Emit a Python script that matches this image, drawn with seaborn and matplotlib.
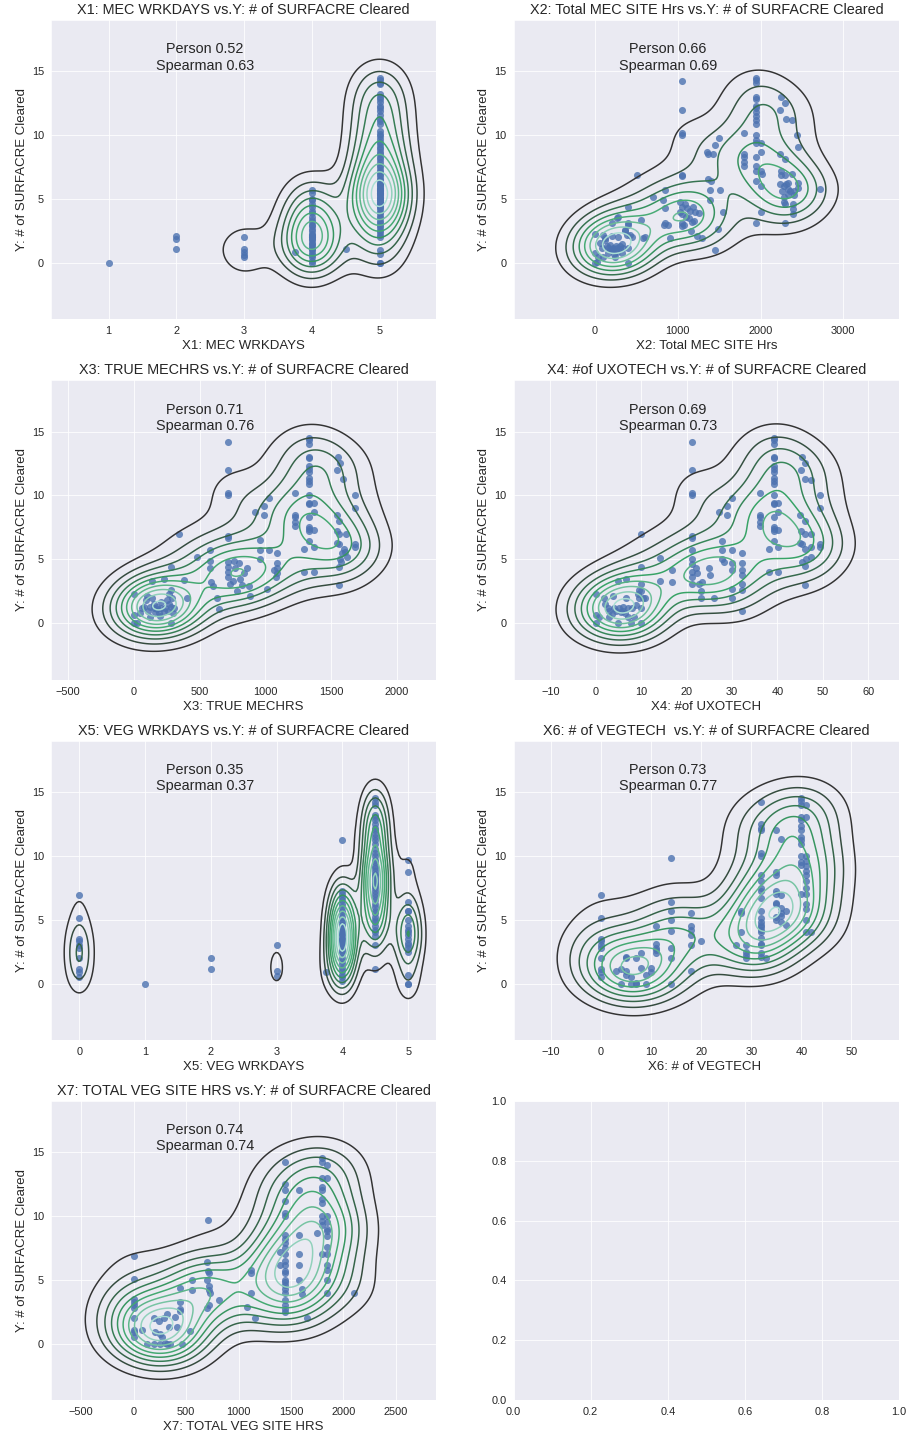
import numpy as np
import pandas as pd
import seaborn as sns
import matplotlib.pyplot as plt
from matplotlib.ticker import MaxNLocator

# ---- values ----
y_name = 'Y: # of SURFACRE Cleared'

names = ['X1: MEC WRKDAYS', 'X2: Total MEC SITE Hrs', 'X3: TRUE MECHRS',
         'X4: #of UXOTECH', 'X5: VEG WRKDAYS', 'X6: # of VEGTECH ',
         'X7: TOTAL VEG SITE HRS']
pearson = [0.52, 0.66, 0.71, 0.69, 0.35, 0.73, 0.74]
spearman = [0.63, 0.69, 0.76, 0.73, 0.37, 0.77, 0.74]

# X1 is discrete: y values for each x column
x1_cols = [1, 2, 3, 3.75, 4, 4.5, 5]
y1_cols = [
    [0.0],
    [2.1, 1.9, 1.1],
    [2.0, 1.1, 0.9, 0.6, 0.5],
    [0.9],
    [5.7, 5.5, 5.0, 4.9, 4.6, 4.4, 4.1, 3.9, 3.6, 3.4, 3.2, 3.0, 2.9, 2.7,
     2.5, 2.3, 2.2, 2.1, 2.0, 2.0, 1.9, 1.8, 1.6, 1.5, 1.3, 1.2, 1.1, 1.0,
     0.8, 0.6, 0.5, 0.2, 0.0],
    [1.1],
    [14.5, 14.3, 14.1, 14.0, 13.2, 13.0, 12.8, 12.6, 12.3, 12.1, 11.9, 11.6,
     11.3, 11.1, 10.9, 10.3, 10.1, 9.9, 9.7, 9.5, 9.3, 9.1, 8.9, 8.7, 8.5,
     8.3, 8.1, 7.9, 7.7, 7.5, 7.3, 7.1, 7.0, 6.8, 6.6, 6.5, 6.3, 6.2, 6.1,
     6.0, 5.9, 5.8, 5.7, 5.7, 5.6, 5.5, 5.5, 5.4, 5.3, 5.2, 5.1, 5.0, 5.0,
     4.9, 4.8, 4.7, 4.6, 4.5, 4.4, 4.2, 4.0, 3.9, 3.7, 3.5, 3.3, 3.1, 3.0,
     2.8, 2.6, 2.4, 2.2, 2.0, 1.0, 0.7, 0.0, 0.0],
]

pts2 = [
    (0, 2.3), (0, 0.8), (0, 0.0), (20, 0.1), (40, 0.5), (60, 1.6), (80, 1.2),
    (100, 0.5), (120, 1.8), (121, 1.95), (140, 1.3), (160, 1.2), (180, 1.0),
    (181, 1.4), (200, 2.1), (200, 1.0), (200, 3.1), (210, 1.1), (220, 1.2),
    (240, 0.5), (250, 1.3), (260, 1.2), (262, 3.5), (280, 2.0), (280, 3.6),
    (300, 1.3), (300, 1.1), (320, 0.8), (340, 1.2), (360, 2.6), (362, 2.5),
    (380, 2.2), (400, 3.1), (403, 4.4), (403, 3.0), (400, 1.2), (400, 0.0),
    (423, 2.2), (440, 2.0), (504, 6.9), (560, 3.4), (580, 1.95), (600, 2.0),
    (150, 0.8), (230, 0.7), (270, 0.9), (330, 1.5), (100, 2.2),
    (701, 5.2), (822, 4.9), (846, 5.7), (846, 4.3), (846, 3.1), (882, 3.0),
    (906, 1.95), (830, 3.0), (1047, 14.2), (1047, 12.0), (1047, 10.2),
    (1047, 10.0), (1047, 6.9), (1047, 6.8), (1027, 4.8), (1027, 4.0),
    (1047, 4.4), (1047, 3.8), (1047, 3.1), (1047, 2.9), (1090, 4.6),
    (1110, 4.3), (1150, 4.1), (1180, 4.4), (1210, 4.0), (1100, 3.6),
    (1140, 3.5), (1170, 3.2), (1200, 3.3), (1080, 3.0), (1160, 2.5),
    (1230, 2.1), (1289, 1.95), (1250, 3.9), (1349, 8.7), (1369, 8.5),
    (1430, 8.5), (1450, 9.2), (1498, 9.8), (1369, 6.6), (1401, 6.4),
    (1389, 5.7), (1510, 5.7), (1389, 4.9), (1547, 4.0), (1490, 2.7),
    (1450, 1.0),
    (1945, 14.5), (1945, 14.3), (1945, 14.1), (1945, 13.0), (1945, 12.8),
    (1945, 12.3), (1945, 12.1), (1945, 11.8), (1945, 11.5), (1945, 11.2),
    (1945, 10.9), (1945, 10.0), (1945, 9.6), (1945, 9.4), (1945, 8.3),
    (1945, 7.6), (1945, 7.2), (1945, 6.4), (1945, 3.1), (1800, 10.2),
    (1800, 8.5), (1800, 8.3), (1800, 7.9), (1800, 7.6), (2000, 9.4),
    (2000, 8.7), (2000, 7.2), (2000, 6.0), (2000, 4.0), (2015, 7.0),
    (2250, 13.0), (2300, 12.5), (2230, 12.0), (2310, 11.3), (2235, 8.5),
    (2300, 8.1), (2250, 7.2), (2250, 6.9), (2300, 6.9), (2240, 6.2),
    (2280, 6.0), (2310, 6.2), (2260, 5.6), (2330, 5.4), (2290, 5.2),
    (2280, 4.8), (2300, 4.6), (2300, 3.1), (2380, 7.0), (2330, 5.8),
    (2360, 5.6), (2436, 10.0), (2456, 9.1), (2456, 6.25), (2456, 5.9),
    (2400, 5.6), (2400, 5.3), (2396, 4.6), (2396, 4.2), (2396, 3.8),
    (2335, 6.25), (2718, 5.8), (2380, 11.2),
]

pts3 = [
    (0, 2.3), (0, 0.65), (0, 0.0), (25, 0.0), (50, 0.8), (76, 1.3), (101, 2.1),
    (110, 1.0), (127, 1.3), (139, 3.3), (152, 1.2), (160, 0.9), (177, 1.3),
    (180, 1.1), (190, 0.8), (203, 1.7), (210, 1.2), (228, 3.5), (240, 1.2),
    (253, 1.8), (260, 1.0), (266, 2.3), (279, 2.6), (279, 4.4), (279, 0.0),
    (285, 1.3), (291, 1.95), (304, 1.2), (300, 0.8), (342, 7.0), (380, 3.4),
    (405, 2.0), (120, 0.5), (150, 1.5), (200, 0.6), (230, 1.0), (270, 1.5),
    (90, 1.8), (140, 2.0), (60, 1.2),
    (481, 5.2), (577, 5.7), (577, 4.9), (582, 4.3), (587, 3.2), (600, 2.9),
    (633, 2.0), (650, 1.1), (714, 14.2), (714, 12.0), (714, 10.2), (714, 10.0),
    (714, 6.85), (714, 6.7), (714, 4.8), (714, 4.4), (714, 4.0), (714, 3.6),
    (734, 3.1), (759, 4.9), (772, 4.3), (797, 4.7), (810, 3.5), (835, 3.9),
    (861, 4.3), (785, 2.5), (873, 2.9), (886, 2.1), (750, 3.3), (820, 3.0),
    (924, 8.7), (992, 9.2), (992, 8.5), (1025, 9.8), (955, 6.5), (955, 5.7),
    (1025, 5.7), (955, 5.0), (1013, 2.7), (1089, 5.5), (1089, 4.7),
    (1089, 4.3), (1089, 3.9), (1063, 4.2), (1080, 3.6),
    (1334, 14.5), (1334, 14.3), (1334, 14.0), (1334, 13.0), (1334, 12.9),
    (1334, 12.3), (1334, 12.1), (1334, 11.8), (1334, 11.4), (1334, 11.1),
    (1334, 10.9), (1334, 10.0), (1334, 9.4), (1334, 9.3), (1334, 8.3),
    (1334, 7.5), (1334, 7.4), (1334, 7.2), (1334, 6.4), (1228, 10.2),
    (1228, 8.5), (1228, 8.3), (1228, 7.9), (1228, 7.6), (1367, 9.4),
    (1367, 8.7), (1367, 7.3), (1367, 6.0), (1367, 4.0), (1296, 5.8),
    (1296, 4.0), (1550, 13.0), (1570, 12.5), (1540, 12.0), (1590, 11.3),
    (1540, 8.5), (1560, 8.0), (1545, 7.2), (1560, 7.0), (1540, 6.3),
    (1560, 6.2), (1580, 5.5), (1570, 5.0), (1575, 4.8), (1560, 4.4),
    (1560, 3.0), (1610, 7.0), (1600, 5.8), (1620, 5.2), (1684, 10.0),
    (1684, 9.0), (1684, 6.2), (1684, 6.0), (1608, 5.6),
]

pts4 = [
    (0, 2.3), (0, 0.65), (0, 0.0), (0.7, 0.5), (1.8, 2.0), (2.6, 1.2),
    (2.9, 0.5), (3.7, 2.1), (4.0, 1.2), (4.8, 3.3), (4.8, 0.0), (5.1, 1.2),
    (5.9, 1.3), (6.6, 1.95), (6.7, 3.5), (7.0, 1.2), (7.0, 0.5), (7.7, 0.0),
    (8.8, 1.4), (9.2, 2.3), (9.5, 2.6), (9.9, 3.1), (9.9, 4.4), (10.0, 7.0),
    (9.9, 1.2), (10.3, 1.95), (10.9, 2.0), (9.9, 0.0), (3.0, 1.0), (4.5, 1.0),
    (5.5, 0.9), (6.0, 1.0), (8.0, 1.2), (2.0, 1.5), (9.5, 2.0), (10.0, 2.5),
    (6.5, 0.8), (3.5, 0.7), (8.5, 0.5),
    (14.1, 5.1), (14.1, 3.3), (16.9, 4.2), (16.9, 3.2), (21.1, 14.2),
    (21.1, 12.0), (21.1, 10.2), (21.1, 10.0), (21.1, 6.85), (21.1, 6.7),
    (21.1, 5.7), (21.1, 5.0), (21.1, 4.6), (21.1, 4.0), (21.1, 3.6),
    (21.1, 3.1), (22.0, 4.3), (22.4, 3.9), (22.7, 3.1), (23.5, 3.2),
    (23.1, 2.5), (23.1, 2.0), (24.9, 4.3), (25.1, 3.8), (26.0, 2.0),
    (27.1, 8.7), (28.9, 9.2), (28.9, 8.5), (29.9, 9.8), (27.9, 6.4),
    (27.9, 5.7), (27.9, 5.0), (28.2, 4.8), (30.0, 5.7), (30.0, 4.7),
    (30.0, 4.2), (30.0, 2.7), (30.0, 2.0), (32.1, 5.5), (32.1, 4.7),
    (32.1, 4.2), (32.1, 3.8), (32.1, 3.1), (32.1, 2.6), (32.1, 1.0),
    (39.2, 14.5), (39.2, 14.3), (39.2, 14.0), (39.2, 13.0), (39.2, 12.9),
    (39.2, 12.3), (39.2, 12.1), (39.2, 11.8), (39.2, 11.4), (39.2, 11.1),
    (39.2, 10.9), (39.2, 10.0), (39.2, 9.4), (39.2, 9.3), (39.2, 8.3),
    (39.2, 7.5), (39.2, 7.4), (39.2, 7.2), (39.2, 6.4), (36.1, 10.2),
    (36.1, 8.5), (36.1, 8.3), (36.1, 7.9), (36.1, 7.6), (40.1, 9.4),
    (40.1, 8.7), (40.1, 7.3), (40.1, 6.0), (40.1, 4.0), (38.1, 5.8),
    (38.1, 4.0), (45.5, 13.0), (46.0, 12.5), (45.2, 12.0), (46.0, 11.3),
    (45.0, 8.5), (46.0, 8.0), (45.2, 7.2), (46.0, 7.0), (45.0, 6.3),
    (45.5, 6.2), (46.0, 5.8), (46.2, 5.0), (45.5, 4.8), (46.0, 4.5),
    (46.0, 3.0), (47.3, 11.2), (47.3, 7.0), (47.3, 6.0), (47.3, 5.2),
    (49.3, 10.0), (49.3, 9.0), (49.3, 6.2), (49.3, 6.0),
]

# X5 is discrete too
x5_cols = [0, 1, 2, 3, 3.75, 4, 4.5, 5]
y5_cols = [
    [6.9, 5.15, 3.5, 3.3, 3.0, 2.8, 2.0, 1.1, 0.9, 0.5],
    [0.0],
    [2.0, 1.1],
    [3.0, 1.0, 0.6],
    [0.9],
    [11.2, 7.2, 7.0, 6.8, 6.5, 6.2, 6.0, 5.7, 5.5, 5.2, 5.0, 4.8, 4.6, 4.5,
     4.3, 4.1, 4.0, 3.9, 3.8, 3.6, 3.5, 3.4, 3.3, 3.2, 3.0, 2.9, 2.8, 2.6,
     2.5, 2.3, 2.0, 1.8, 1.5, 1.2, 1.0, 0.7, 0.5, 0.2],
    [14.5, 14.2, 14.0, 13.2, 13.0, 12.8, 12.5, 12.2, 12.0, 11.7, 11.5, 11.2,
     10.9, 10.5, 10.2, 10.0, 9.7, 9.5, 9.2, 9.0, 8.8, 8.6, 8.5, 8.3, 8.2,
     8.0, 7.9, 7.8, 7.6, 7.5, 7.2, 7.0, 6.8, 6.5, 6.2, 6.0, 5.7, 5.5, 5.2,
     5.0, 4.8, 4.5, 4.2, 4.0, 3.7, 3.0, 1.1],
    [9.7, 8.7, 6.4, 5.7, 5.7, 5.0, 4.5, 4.2, 4.0, 3.8, 3.5, 3.2, 3.0, 2.8,
     2.5, 0.7, 0.0, 0.0],
]

pts6 = [
    (0, 6.9), (0, 5.1), (0, 3.5), (0, 3.3), (0, 3.0), (0, 2.8), (0, 2.0),
    (0, 1.1), (0, 0.9), (0, 0.5), (3, 1.0), (4, 1.1), (4, 0.0), (5, 2.1),
    (5, 2.0), (5, 1.0), (5, 0.7), (6, 0.0), (6, 0.5), (7, 0.0), (7, 0.05),
    (7, 2.0), (8, 2.4), (8, 1.2), (9, 0.7), (9, 0.0), (10, 1.2), (10, 0.9),
    (11, 4.5), (11, 3.1), (11, 2.8), (11, 2.6), (11, 2.4), (14, 9.8),
    (14, 6.4), (14, 5.7), (14, 5.0), (14, 4.1), (14, 2.8), (14, 2.0),
    (14, 0.0), (18, 5.5), (18, 4.5), (18, 4.2), (18, 3.8), (18, 3.0),
    (18, 1.0), (20, 3.3), (27, 3.0), (28, 5.7), (28, 5.5), (28, 4.0),
    (29, 3.0), (29, 2.5), (29, 2.2), (29, 2.0),
    (32, 14.2), (32, 12.5), (32, 12.2), (32, 12.0), (32, 10.2), (32, 10.0),
    (32, 8.5), (32, 8.0), (32, 7.5), (32, 7.2), (32, 6.7), (32, 5.7),
    (32, 5.1), (32, 4.8), (32, 4.6), (32, 4.4), (32, 4.2), (32, 4.0),
    (32, 3.6), (32, 3.1), (32, 3.0), (32, 2.4), (32, 2.1), (33, 2.0),
    (35, 12.0), (35, 8.7), (35, 8.5), (35, 7.2), (35, 7.0), (35, 6.3),
    (35, 6.2), (35, 5.2), (35, 5.0), (36, 11.3), (36, 6.9), (36, 5.9),
    (36, 5.5), (36, 5.3), (36, 4.8), (37, 5.7), (37, 4.6),
    (40, 14.5), (40, 14.3), (40, 14.0), (40, 13.0), (40, 12.8), (40, 12.3),
    (40, 12.0), (40, 11.5), (40, 11.2), (40, 10.9), (40, 10.0), (40, 9.5),
    (40, 9.3), (40, 7.0), (41, 14.0), (41, 13.0), (41, 10.0), (41, 9.6),
    (41, 9.2), (41, 8.8), (41, 8.5), (41, 8.0), (41, 7.5), (41, 7.0),
    (41, 6.2), (41, 5.8), (41, 5.0), (41, 4.0), (42, 4.0),
]

pts7 = [
    (0, 6.9), (0, 5.1), (0, 3.5), (0, 3.3), (0, 3.0), (0, 2.8), (0, 2.0),
    (0, 1.1), (0, 0.9), (0, 0.5), (80, 1.1), (190, 2.0), (207, 0.9),
    (130, 0.0), (190, 0.0), (250, 0.0), (320, 0.0), (350, 0.0), (240, 1.8),
    (286, 2.0), (254, 0.8), (334, 1.3), (318, 2.3), (398, 2.1), (413, 1.3),
    (445, 4.4), (445, 3.3), (445, 2.7), (445, 2.6), (461, 0.0), (541, 1.0),
    (556, 5.0), (556, 4.2), (300, 0.1), (270, 0.5),
    (710, 9.7), (700, 6.4), (710, 5.7), (720, 5.5), (700, 5.0), (715, 4.5),
    (720, 4.2), (730, 4.0), (720, 3.0), (700, 2.8), (811, 3.4), (1081, 2.9),
    (1119, 5.5), (1119, 5.8), (1161, 2.0), (1119, 4.0),
    (1447, 14.2), (1447, 12.5), (1447, 12.0), (1447, 11.2), (1447, 10.2),
    (1447, 10.0), (1447, 8.5), (1447, 8.2), (1447, 7.9), (1447, 7.5),
    (1447, 7.0), (1447, 6.5), (1447, 6.2), (1447, 5.7), (1447, 5.5),
    (1447, 5.0), (1447, 4.8), (1447, 4.6), (1447, 4.3), (1447, 4.0),
    (1447, 3.4), (1447, 3.0), (1447, 2.7), (1447, 2.5), (1400, 7.2),
    (1400, 6.2), (1574, 12.0), (1574, 8.5), (1574, 7.0), (1574, 6.2),
    (1574, 5.0), (1606, 4.3), (1606, 3.9), (1654, 2.0), (1749, 8.7),
    (1797, 14.5), (1797, 14.2), (1797, 13.0), (1797, 12.3), (1797, 12.0),
    (1797, 11.3), (1797, 11.0), (1797, 10.0), (1797, 9.6), (1797, 9.3),
    (1797, 7.0), (1845, 14.0), (1845, 13.0), (1845, 10.0), (1845, 9.5),
    (1845, 9.0), (1845, 8.8), (1845, 8.4), (1845, 7.6), (1845, 7.0),
    (1845, 6.2), (1845, 5.8), (1845, 5.0), (1845, 4.0), (2100, 4.0),
]

x_ticks = [[1, 2, 3, 4, 5], [0, 1000, 2000, 3000],
           [-500, 0, 500, 1000, 1500, 2000], [-10, 0, 10, 20, 30, 40, 50, 60],
           [0, 1, 2, 3, 4, 5], [-10, 0, 10, 20, 30, 40, 50],
           [-500, 0, 500, 1000, 1500, 2000, 2500]]
x_lims = [(0.15, 5.84), (-987, 3676), (-629, 2299), (-18.1, 66.8),
          (-0.43, 5.43), (-17.45, 59.5), (-789, 2888)]
y_lim = (-4.4, 19.0)
y_ticks = [0, 5, 10, 15]


def from_cols(xs, ys):
    xx = [x for x, col in zip(xs, ys) for _ in col]
    yy = [v for col in ys for v in col]
    return pd.DataFrame({'x': xx, 'y': yy})


def from_pts(pts):
    return pd.DataFrame(pts, columns=['x', 'y'])


def scott_bw(data):
    # one scott bandwidth per variable (rows of data), statsmodels flavour
    n = data.shape[1]
    q75, q25 = np.percentile(data, [75, 25], axis=1)
    a = np.minimum(data.std(axis=1, ddof=1), (q75 - q25) / 1.349)
    return 1.059 * a * n ** (-0.2)


def scott_diag(kde):
    # no cross term in the kernel, like the old statsmodels kde path
    bw = scott_bw(kde.dataset)
    cov = np.diag(bw ** 2)
    kde._data_covariance = cov
    kde._data_inv_cov = np.linalg.inv(cov)
    kde._data_cho_cov = np.diag(bw)
    return 1.0


def old_style_levels(df, n_levels=10, cut=3, gridsize=200):
    # old seaborn drew contour(z, 10): evenly spaced density values.
    # turn those into the iso-proportions that kdeplot now wants
    data = df[['x', 'y']].to_numpy().T
    bw = scott_bw(data)
    gx = np.linspace(data[0].min() - cut * bw[0], data[0].max() + cut * bw[0], gridsize)
    gy = np.linspace(data[1].min() - cut * bw[1], data[1].max() + cut * bw[1], gridsize)
    kx = np.exp(-0.5 * ((gx[:, None] - data[0][None, :]) / bw[0]) ** 2)
    ky = np.exp(-0.5 * ((gy[:, None] - data[1][None, :]) / bw[1]) ** 2)
    z = ky @ kx.T
    lev = MaxNLocator(n_levels + 1).tick_values(z.min(), z.max())
    lev = lev[(lev > z.min()) & (lev < z.max())]
    vals = np.sort(z.ravel())
    total = vals.sum()
    props = [vals[vals < v].sum() / total for v in lev]
    return props


frames = [from_cols(x1_cols, y1_cols), from_pts(pts2), from_pts(pts3),
          from_pts(pts4), from_cols(x5_cols, y5_cols), from_pts(pts6),
          from_pts(pts7)]

sns.set_style('darkgrid')
plt.rcParams['font.family'] = ['Liberation Sans', 'DejaVu Sans']
plt.rcParams['axes.titlesize'] = 14.4
plt.rcParams['axes.labelsize'] = 13.2
plt.rcParams['xtick.labelsize'] = 11
plt.rcParams['ytick.labelsize'] = 11

# old-style "BuGn_d": dark grey for the outer rings, pale aqua in the middle
kde_cmap = sns.blend_palette(['#333333'] + sns.color_palette('BuGn_r', 2),
                             as_cmap=True)

fig, axes = plt.subplots(4, 2, figsize=(910 / 72, 1437 / 72), dpi=72)
fig.subplots_adjust(left=0.056, right=0.988, top=0.986, bottom=0.0257,
                    wspace=0.2, hspace=0.204)

for i, df in enumerate(frames):
    ax = axes.flat[i]
    sns.scatterplot(data=df, x='x', y='y', ax=ax, s=50, alpha=0.8,
                    linewidth=0, color='#4C72B0')
    sns.kdeplot(data=df, x='x', y='y', ax=ax, cmap=kde_cmap,
                levels=old_style_levels(df), bw_method=scott_diag,
                linewidths=1.5)
    ax.text(0.4, 0.875, 'Person %.2f\nSpearman %.2f' % (pearson[i], spearman[i]),
            transform=ax.transAxes, ha='center', va='center',
            multialignment='center', fontsize=14.4, color='.15')
    ax.set_title(names[i] + ' vs.' + y_name)
    ax.set_xlabel(names[i])
    ax.set_ylabel(y_name)
    ax.set_xticks(x_ticks[i])
    ax.set_yticks(y_ticks)
    ax.set_xlim(x_lims[i])
    ax.set_ylim(y_lim)

fig.savefig('out.png', dpi=72)
